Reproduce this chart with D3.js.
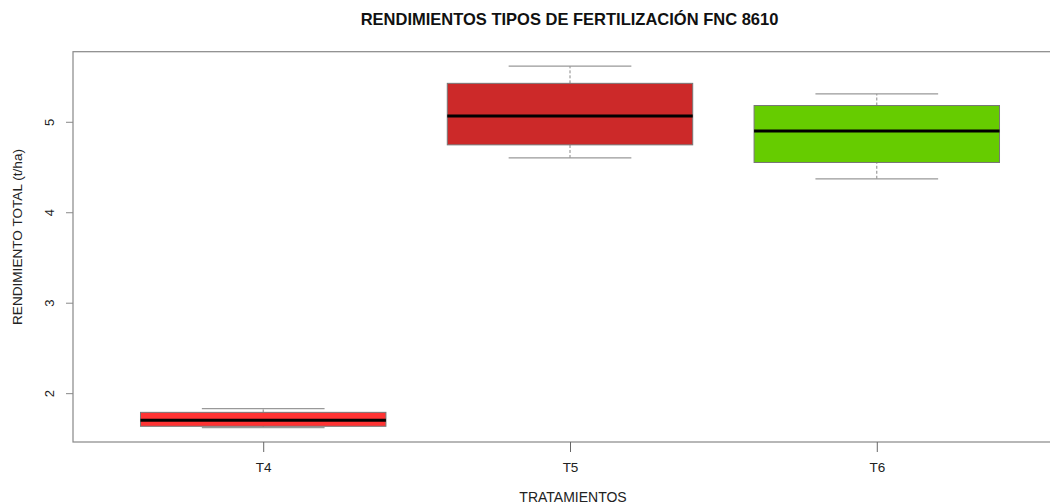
<!DOCTYPE html>
<html>
<head>
<meta charset="utf-8">
<script src="https://cdn.jsdelivr.net/npm/d3@7/dist/d3.min.js"></script>
<style>
  html, body { margin: 0; padding: 0; background: #fff; }
  svg { display: block; font-family: "Liberation Sans", Arial, sans-serif; }
</style>
</head>
<body>
<svg id="chart" width="1050" height="504"></svg>
<script>
// Treatments and their five-number summaries (t/ha)
const categories = ["T4", "T5", "T6"];
const whiskerLow  = [1.62, 4.60, 4.37];
const quartile1   = [1.634, 4.745, 4.55];
const medians     = [1.70, 5.063, 4.898];
const quartile3   = [1.788, 5.425, 5.18];
const whiskerHigh = [1.829, 5.615, 5.308];
const fills = ["#FF3333", "#CC2929", "#66CC00"];
const yTicks = [2, 3, 4, 5];

const svg = d3.select("#chart");
const plot = { left: 73, right: 1067, top: 51.7, bottom: 442 };

// R-style extents: categories at 1..n, range padded by 4%
const xLo = 0.5, xHi = categories.length + 0.5;
const xPad = (xHi - xLo) * 0.04;
const x = d3.scaleLinear().domain([xLo - xPad, xHi + xPad]).range([plot.left, plot.right]);

const yMin = d3.min(whiskerLow), yMax = d3.max(whiskerHigh);
const yPad = (yMax - yMin) * 0.04;
const y = d3.scaleLinear().domain([yMin - yPad, yMax + yPad]).range([plot.bottom, plot.top]);

const boxHalf = 0.4, capHalf = 0.2;

const data = categories.map((c, i) => ({
  c, i, pos: i + 1,
  lo: whiskerLow[i], q1: quartile1[i], med: medians[i], q3: quartile3[i], hi: whiskerHigh[i],
  fill: fills[i]
}));

const g = svg.append("g");

data.forEach(d => {
  const grp = g.append("g");
  // dashed whiskers
  [[d.q3, d.hi], [d.lo, d.q1]].forEach(([a, b]) => {
    grp.append("line")
      .attr("x1", x(d.pos)).attr("x2", x(d.pos))
      .attr("y1", y(a)).attr("y2", y(b))
      .attr("stroke", "#888").attr("stroke-width", 1)
      .attr("stroke-dasharray", "3,2");
  });
  // whisker caps
  [d.lo, d.hi].forEach(v => {
    grp.append("line")
      .attr("x1", x(d.pos - capHalf)).attr("x2", x(d.pos + capHalf))
      .attr("y1", y(v)).attr("y2", y(v))
      .attr("stroke", "#999").attr("stroke-width", 1.2);
  });
  // box
  grp.append("rect")
    .attr("x", x(d.pos - boxHalf))
    .attr("width", x(d.pos + boxHalf) - x(d.pos - boxHalf))
    .attr("y", y(d.q3))
    .attr("height", y(d.q1) - y(d.q3))
    .attr("fill", d.fill)
    .attr("stroke", "#777").attr("stroke-width", 1);
  // median
  grp.append("line")
    .attr("x1", x(d.pos - boxHalf)).attr("x2", x(d.pos + boxHalf))
    .attr("y1", y(d.med)).attr("y2", y(d.med))
    .attr("stroke", "#000").attr("stroke-width", 3);
});

// frame
svg.append("rect")
  .attr("x", plot.left).attr("y", plot.top)
  .attr("width", plot.right - plot.left).attr("height", plot.bottom - plot.top)
  .attr("fill", "none").attr("stroke", "#888").attr("stroke-width", 1.2);

// y axis: ticks outward, labels rotated parallel to the axis
const yAxis = d3.axisLeft(y).tickValues(yTicks).tickSize(7).tickPadding(0).tickFormat(d3.format("d"));
const ya = svg.append("g").attr("transform", `translate(${plot.left},0)`).call(yAxis);
ya.select(".domain").remove();
ya.selectAll(".tick line").attr("stroke", "#888");
ya.selectAll(".tick text")
  .attr("font-size", 13).attr("fill", "#222")
  .attr("text-anchor", "middle")
  .attr("x", 0).attr("dy", null)
  .attr("transform", "translate(-19,0) rotate(-90)");

// x axis
const xAxis = d3.axisBottom(x).tickValues(data.map(d => d.pos))
  .tickFormat((d, i) => categories[i]).tickSize(10).tickPadding(10);
const xa = svg.append("g").attr("transform", `translate(0,${plot.bottom})`).call(xAxis);
xa.select(".domain").remove();
xa.selectAll(".tick line").attr("stroke", "#666");
xa.selectAll(".tick text").attr("font-size", 13.5).attr("fill", "#222");

// titles
svg.append("text")
  .attr("x", 569.5).attr("y", 25)
  .attr("text-anchor", "middle")
  .attr("font-size", 16.5).attr("font-weight", "bold").attr("fill", "#111")
  .text("RENDIMIENTOS TIPOS DE FERTILIZACIÓN FNC 8610");

svg.append("text")
  .attr("x", 573).attr("y", 502)
  .attr("text-anchor", "middle")
  .attr("font-size", 14).attr("fill", "#222")
  .text("TRATAMIENTOS");

svg.append("text")
  .attr("transform", `translate(22,237) rotate(-90)`)
  .attr("text-anchor", "middle")
  .attr("font-size", 13.6).attr("fill", "#222")
  .text("RENDIMIENTO TOTAL (t/ha)");
</script>
</body>
</html>
